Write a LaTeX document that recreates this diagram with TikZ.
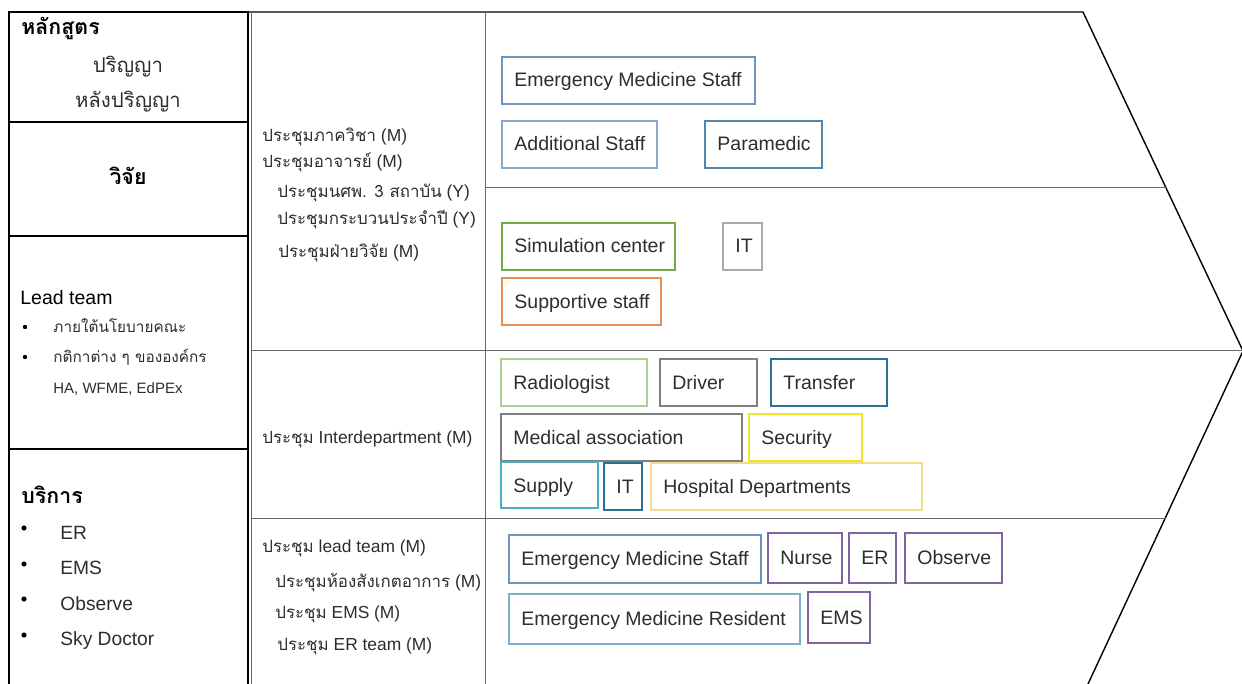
\documentclass[tikz,border=0pt]{standalone}
\usepackage{fontspec}
\setmainfont{Liberation Sans}
\newfontfamily\thaifont[Script=Thai,Scale=0.97]{Loma}
\usetikzlibrary{positioning}
\definecolor{inkgray}{RGB}{45,45,45}
\definecolor{emblue}{RGB}{105,150,190}
\definecolor{addblue}{RGB}{135,168,200}
\definecolor{medblue}{RGB}{80,135,175}
\definecolor{simgreen}{RGB}{112,173,71}
\definecolor{itgray}{RGB}{170,170,170}
\definecolor{suporange}{RGB}{230,145,80}
\definecolor{radgreen}{RGB}{169,208,142}
\definecolor{drvgray}{RGB}{128,128,128}
\definecolor{trfblue}{RGB}{45,112,150}
\definecolor{secyellow}{RGB}{240,228,40}
\definecolor{supcyan}{RGB}{75,172,198}
\definecolor{itteal}{RGB}{40,115,145}
\definecolor{hospyellow}{RGB}{240,222,140}
\definecolor{resblue}{RGB}{125,175,205}
\definecolor{nursepurple}{RGB}{128,100,162}
\newcommand{\thx}[1]{{\thaifont #1}}

\begin{document}
\begin{tikzpicture}[x=0.5pt, y=-0.5pt,
  frame/.style={draw=black, line width=1pt},
  chev/.style={draw=black, line width=0.7pt},
  lane/.style={draw=black!60, line width=0.5pt},
  tag/.style={draw=#1, line width=0.7pt},
  lbl/.style={anchor=base west, inner sep=0pt, font=\fontsize{9.75}{12}\selectfont, text=inkgray},
  meet/.style={anchor=base west, inner sep=0pt, font=\fontsize{8.7}{11}\selectfont, text=inkgray},
  head/.style={inner sep=0pt, font=\fontsize{11}{13}\selectfont\bfseries},
  dot/.style={circle, fill=black, inner sep=0pt, minimum size=#1},
  dot/.default=2.6pt]
  \useasboundingbox (0,0) rectangle (1242,684);

  % left column
  \draw[frame] (9,684) -- (9,12) -- (248,12) -- (248,684);
  \draw[frame] (9,122) -- (248,122);
  \draw[frame] (9,236) -- (248,236);
  \draw[frame] (9,449) -- (248,449);

  % chevron outline
  \draw[chev] (248,12) -- (1083,12) -- (1243,351);
  \draw[chev] (1243,351) -- (1088,684);
  \draw[lane] (251,12) -- (251,684);
  \draw[lane] (485,12) -- (485,684);
  \draw[lane] (485,188) -- (1166,188);
  \draw[lane] (251,350) -- (1243,350);
  \draw[lane] (251,518) -- (1166,518);

  % left column text
  \node[head, anchor=base west] (course) at (21,35) {\thx{หลักสูตร}};
  \node[anchor=base, inner sep=0pt, font=\fontsize{10.5}{12}\selectfont, text=inkgray] (grad) at (128,73) {\thx{ปริญญา}};
  \node[anchor=base, inner sep=0pt, font=\fontsize{10.5}{12}\selectfont, text=inkgray] (postgrad) at (128,108) {\thx{หลังปริญญา}};
  \node[head, anchor=base] (research) at (128,185) {\thx{วิจัย}};
  \node[lbl, text=black] (lead) at (20,305) {Lead team};
  \node[dot=2.2pt] (ldot1) at (25,327) {};
  \node[meet, font=\fontsize{7.9}{10}\selectfont] (policy) at (53,332) {\thx{ภายใต้นโยบายคณะ}};
  \node[dot=2.2pt] (ldot2) at (25,357) {};
  \node[meet, font=\fontsize{7.9}{10}\selectfont] (rules) at (53,362) {\thx{กติกาต่าง ๆ ขององค์กร}};
  \node[meet, font=\fontsize{7.5}{9}\selectfont] (accred) at (53,393) {HA, WFME, EdPEx};
  \node[head, anchor=base west] (service) at (21,503) {\thx{บริการ}};
  \node[dot] (sdot1) at (24,528) {};
  \node[lbl, font=\fontsize{9.6}{12}\selectfont] (srvER) at (60,539) {ER};
  \node[dot] (sdot2) at (24,564) {};
  \node[lbl, font=\fontsize{9.6}{12}\selectfont] (srvEMS) at (60,574) {EMS};
  \node[dot] (sdot3) at (24,599) {};
  \node[lbl, font=\fontsize{9.6}{12}\selectfont] (srvObs) at (60,610) {Observe};
  \node[dot] (sdot4) at (24,635) {};
  \node[lbl, font=\fontsize{9.6}{12}\selectfont] (srvSky) at (60,645) {Sky Doctor};

  % meetings
  \node[meet] (m1) at (262,142) {\thx{ประชุมภาควิชา} (M)};
  \node[meet] (m2) at (262,168) {\thx{ประชุมอาจารย์} (M)};
  \node[meet] (m3) at (277,198) {\thx{ประชุมนศพ. 3 สถาบัน} (Y)};
  \node[meet] (m4) at (277,225) {\thx{ประชุมกระบวนประจำปี} (Y)};
  \node[meet] (m5) at (278,257) {\thx{ประชุมฝ่ายวิจัย} (M)};
  \node[meet] (m6) at (262,443) {\thx{ประชุม} Interdepartment (M)};
  \node[meet] (m7) at (262,552) {\thx{ประชุม} lead team (M)};
  \node[meet] (m8) at (275,587) {\thx{ประชุมห้องสังเกตอาการ} (M)};
  \node[meet] (m9) at (275,618) {\thx{ประชุม} EMS (M)};
  \node[meet] (m10) at (277,650) {\thx{ประชุม} ER team (M)};

  % staff boxes
  \draw[tag=emblue] (502,57) rectangle (755,104);
  \node[lbl] (emstaff) at (514,87) {Emergency Medicine Staff};
  \draw[tag=addblue] (502,121) rectangle (657,168);
  \node[lbl] (addstaff) at (514,151) {Additional Staff};
  \draw[tag=medblue] (705,121) rectangle (822,168);
  \node[lbl] (para) at (717,151) {Paramedic};

  \draw[tag=simgreen] (502,223) rectangle (675,270);
  \node[lbl] (sim) at (514,253) {Simulation center};
  \draw[tag=itgray] (723,223) rectangle (762,270);
  \node[lbl] (itA) at (735,253) {IT};
  \draw[tag=suporange] (502,278) rectangle (661,325);
  \node[lbl] (support) at (514,308) {Supportive staff};

  \draw[tag=radgreen] (501,359) rectangle (647,406);
  \node[lbl] (radio) at (513,389) {Radiologist};
  \draw[tag=drvgray] (660,359) rectangle (757,406);
  \node[lbl] (driver) at (672,389) {Driver};
  \draw[tag=trfblue] (771,359) rectangle (887,406);
  \node[lbl] (transfer) at (783,389) {Transfer};
  \draw[tag=drvgray] (501,414) rectangle (742,461);
  \node[lbl] (medassoc) at (513,444) {Medical association};
  \draw[tag=secyellow] (749,414) rectangle (862,461);
  \node[lbl] (security) at (761,444) {Security};
  \draw[tag=supcyan] (501,462) rectangle (598,508);
  \node[lbl] (supply) at (513,492) {Supply};
  \draw[tag=itteal] (604,463) rectangle (642,510);
  \node[lbl] (itB) at (616,493) {IT};
  \draw[tag=hospyellow] (651,463) rectangle (922,510);
  \node[lbl] (hospdep) at (663,493) {Hospital Departments};

  \draw[tag=emblue] (509,535) rectangle (761,583);
  \node[lbl] (emstaffB) at (521,565) {Emergency Medicine Staff};
  \draw[tag=nursepurple] (768,533) rectangle (842,583);
  \node[lbl] (nurse) at (780,564) {Nurse};
  \draw[tag=nursepurple] (849,533) rectangle (896,583);
  \node[lbl] (er) at (861,564) {ER};
  \draw[tag=nursepurple] (905,533) rectangle (1002,583);
  \node[lbl] (observe) at (917,564) {Observe};
  \draw[tag=resblue] (509,594) rectangle (800,644);
  \node[lbl] (resident) at (521,625) {Emergency Medicine Resident};
  \draw[tag=nursepurple] (808,592) rectangle (870,643);
  \node[lbl] (ems) at (820,624) {EMS};
\end{tikzpicture}
\end{document}
